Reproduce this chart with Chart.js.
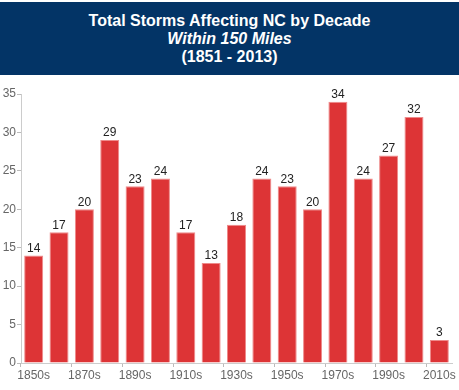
<!DOCTYPE html>
<html>
<head>
<meta charset="utf-8">
<script src="https://cdn.jsdelivr.net/npm/chart.js@4"></script>
<style>
  html, body { margin: 0; padding: 0; background: #fff; }
  body { width: 459px; height: 390px; position: relative; overflow: hidden; font-family: "Liberation Sans", Arial, sans-serif; }
  #banner { position: absolute; left: 0; top: 2px; width: 459px; height: 73px; background: #033466; color: #fff; text-align: center; font-weight: bold; font-size: 16px; line-height: 18px; padding-top: 10px; box-sizing: border-box; }
  #wrap { position: absolute; left: 0; top: 76px; width: 459px; height: 314px; }
</style>
</head>
<body>
<div id="banner">Total Storms Affecting NC by Decade<br><i>Within 150 Miles</i><br>(1851 - 2013)</div>
<div id="wrap"><canvas id="c"></canvas></div>
<script>
const decades = ["1850s","1860s","1870s","1880s","1890s","1900s","1910s","1920s","1930s","1940s","1950s","1960s","1970s","1980s","1990s","2000s","2010s"];
const storms = [14,17,20,29,23,24,17,13,18,24,23,20,34,24,27,32,3];
const yTicks = [0,5,10,15,20,25,30,35];

const valueLabels = {
  id: 'valueLabels',
  afterDatasetsDraw(chart) {
    const ctx = chart.ctx;
    const meta = chart.getDatasetMeta(0);
    ctx.save();
    ctx.font = '12px "Liberation Sans", Arial, sans-serif';
    ctx.fillStyle = '#222';
    ctx.textAlign = 'center';
    ctx.textBaseline = 'bottom';
    meta.data.forEach((bar, i) => {
      ctx.fillText(String(storms[i]), bar.x, bar.y - 1);
    });
    ctx.restore();
  }
};

new Chart(document.getElementById('c'), {
  type: 'bar',
  data: {
    labels: decades,
    datasets: [{
      data: storms,
      backgroundColor: '#dd3436',
      borderColor: '#ee8a8a',
      borderWidth: 1,
      categoryPercentage: 1,
      barPercentage: 0.75
    }]
  },
  options: {
    responsive: true,
    maintainAspectRatio: false,
    animation: false,
    layout: { padding: { top: 18, right: 7, left: 0, bottom: 0 } },
    plugins: { legend: { display: false }, tooltip: { enabled: false } },
    scales: {
      x: {
        afterFit(s) { s.height = 27; },
        grid: {
          drawOnChartArea: false,
          tickLength: 4,
          color: (c) => (c.index % 2 === 0 ? '#bbb' : 'rgba(0,0,0,0)')
        },
        border: { color: '#ccc' },
        ticks: {
          autoSkip: false,
          maxRotation: 0,
          padding: 1,
          color: '#666',
          font: { size: 12, family: '"Liberation Sans", Arial, sans-serif' },
          callback: (v, i) => (i % 2 === 0 ? decades[i] : '')
        }
      },
      y: {
        min: 0, max: 35,
        afterFit(s) { s.width = 21; },
        afterBuildTicks(s) { s.ticks = yTicks.map(v => ({ value: v })); },
        grid: { drawOnChartArea: false, tickLength: 4, color: '#bbb' },
        border: { color: '#ccc' },
        ticks: {
          padding: 1,
          color: '#666',
          font: { size: 12, family: '"Liberation Sans", Arial, sans-serif' }
        }
      }
    }
  },
  plugins: [valueLabels]
});
</script>
</body>
</html>
